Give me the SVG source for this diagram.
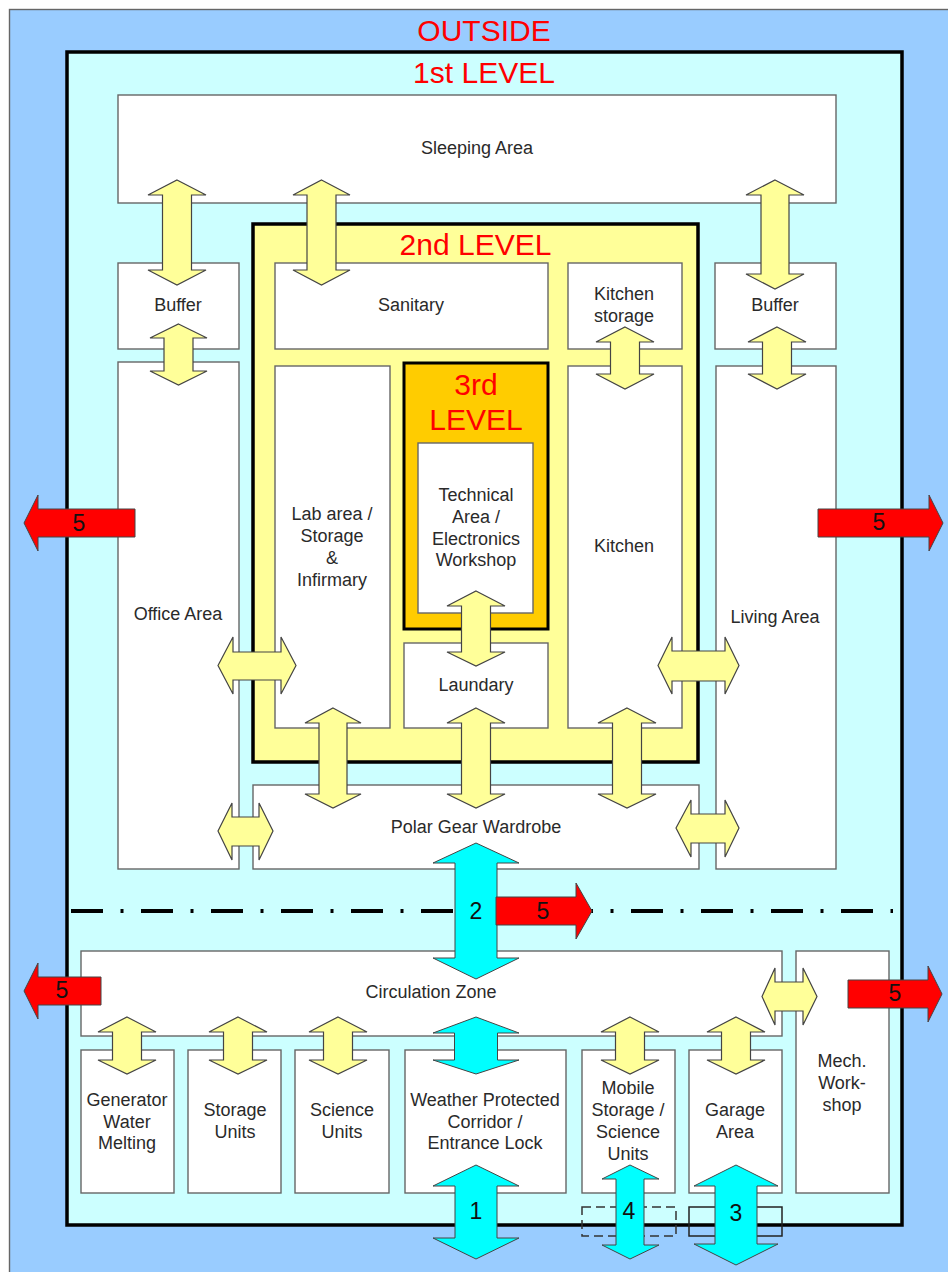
<svg xmlns="http://www.w3.org/2000/svg" width="948" height="1272" viewBox="0 0 948 1272">
<style>
text{font-family:"Liberation Sans",Arial,sans-serif;text-anchor:middle}
.b{fill:#fff;stroke:#666;stroke-width:1.4}
.t{font-size:18px;fill:#2a2a2a}
.h{font-size:30px;fill:#f00}
.n{font-size:23px;fill:#111}
.y{fill:#ff9;stroke:#444;stroke-width:1.2}
.c{fill:#0ff;stroke:#444;stroke-width:1}
.r{fill:#f00;stroke:#444;stroke-width:1}
</style>
<rect width="948" height="1272" fill="#fff"/>
<g id="outside"><rect x="9.5" y="9.5" width="945" height="1270" fill="#9cf" stroke="#666" stroke-width="1.4"/><text class="h" x="484" y="41">OUTSIDE</text></g>
<g id="level1"><rect x="67" y="52" width="835" height="1173" fill="#cff" stroke="#000" stroke-width="3.5"/><text class="h" x="484" y="83">1st LEVEL</text></g>
<g id="sleeping"><rect class="b" x="118" y="95" width="718" height="108"/><text class="t" x="477" y="154">Sleeping Area</text></g>
<g id="buffer-left"><rect class="b" x="118" y="263" width="121" height="86"/><text class="t" x="178" y="311">Buffer</text></g>
<g id="office"><rect class="b" x="118" y="362" width="121" height="507"/><text class="t" x="178" y="620">Office Area</text></g>
<g id="buffer-right"><rect class="b" x="715" y="263" width="121" height="86"/><text class="t" x="775" y="311">Buffer</text></g>
<g id="living"><rect class="b" x="716" y="366" width="120" height="503"/><text class="t" x="775" y="623">Living Area</text></g>
<g id="level2"><rect x="253" y="224" width="445" height="538" fill="#ff9" stroke="#000" stroke-width="3.5"/><text class="h" x="475.500" y="255">2nd LEVEL</text></g>
<g id="sanitary"><rect class="b" x="275" y="263" width="273" height="86"/><text class="t" x="411" y="311">Sanitary</text></g>
<g id="kitchen-storage"><rect class="b" x="568" y="263" width="114" height="86"/><text class="t" x="624" y="300">Kitchen</text><text class="t" x="624" y="322">storage</text></g>
<g id="lab"><rect class="b" x="275" y="366" width="115" height="362"/><text class="t" x="332" y="520">Lab area /</text><text class="t" x="332" y="542">Storage</text><text class="t" x="332" y="564">&amp;</text><text class="t" x="332" y="586">Infirmary</text></g>
<g id="level3"><rect x="404" y="363" width="144" height="266" fill="#fc0" stroke="#000" stroke-width="3"/><text class="h" x="476" y="395">3rd</text><text class="h" x="476" y="430">LEVEL</text></g>
<g id="technical"><rect class="b" x="418" y="443" width="115" height="170"/><text class="t" x="476" y="501">Technical</text><text class="t" x="476" y="523">Area /</text><text class="t" x="476" y="545">Electronics</text><text class="t" x="476" y="566">Workshop</text></g>
<g id="laundary"><rect class="b" x="404" y="643" width="144" height="85"/><text class="t" x="476" y="691">Laundary</text></g>
<g id="kitchen"><rect class="b" x="568" y="366" width="114" height="362"/><text class="t" x="624" y="552">Kitchen</text></g>
<g id="polar-gear"><rect class="b" x="253" y="785" width="446" height="84"/><text class="t" x="476" y="833">Polar Gear Wardrobe</text></g>
<g id="circulation"><rect class="b" x="81" y="951" width="701" height="85"/><text class="t" x="431" y="998">Circulation Zone</text></g>
<g id="mech"><rect class="b" x="796" y="951" width="93" height="242"/><text class="t" x="842" y="1067">Mech.</text><text class="t" x="842" y="1089">Work-</text><text class="t" x="842" y="1111">shop</text></g>
<g id="generator"><rect class="b" x="81" y="1050" width="93" height="143"/><text class="t" x="127" y="1106">Generator</text><text class="t" x="127" y="1128">Water</text><text class="t" x="127" y="1149">Melting</text></g>
<g id="storage"><rect class="b" x="188" y="1050" width="93" height="143"/><text class="t" x="235" y="1116">Storage</text><text class="t" x="235" y="1138">Units</text></g>
<g id="science"><rect class="b" x="295" y="1050" width="94" height="143"/><text class="t" x="342" y="1116">Science</text><text class="t" x="342" y="1138">Units</text></g>
<g id="weather"><rect class="b" x="405" y="1050" width="161" height="143"/><text class="t" x="485" y="1106">Weather Protected</text><text class="t" x="485" y="1128">Corridor /</text><text class="t" x="485" y="1149">Entrance Lock</text></g>
<g id="mobile"><rect class="b" x="582" y="1050" width="93" height="143"/><text class="t" x="628" y="1094">Mobile</text><text class="t" x="628" y="1116">Storage /</text><text class="t" x="628" y="1138">Science</text><text class="t" x="628" y="1160">Units</text></g>
<g id="garage"><rect class="b" x="689" y="1050" width="93" height="143"/><text class="t" x="735" y="1116">Garage</text><text class="t" x="735" y="1138">Area</text></g>
<g id="connectors">
<path d="M71 911H893" fill="none" stroke="#000" stroke-width="4" stroke-dasharray="32 17.5 3 17.5"/>
<rect x="582" y="1207" width="94" height="29" fill="none" stroke="#333" stroke-width="1.5" stroke-dasharray="9 5"/>
<rect x="689" y="1207" width="93" height="29" fill="none" stroke="#222" stroke-width="1.5"/>
<path class="y" d="M177 180L206 195H191.500V270H206L177 285L148 270H162.500V195H148Z"/>
<path class="y" d="M178.500 324L207 338H193V371H207L178.500 385L150 371H164V338H150Z"/>
<path class="y" d="M321.500 180L350 195H336V270H350L321.500 285L293 270H307V195H293Z"/>
<path class="y" d="M775 180L804 195H789V274H804L775 289L746 274H761V195H746Z"/>
<path class="y" d="M777 327L806 342H791.500V374H806L777 389L748 374H762.500V342H748Z"/>
<path class="y" d="M625 327L654 342H639.500V374H654L625 389L596 374H610.500V342H596Z"/>
<path class="y" d="M476 591L505 606H490.500V652H505L476 666L447 652H461.500V606H447Z"/>
<path class="y" d="M333 708L361 723H347V794H361L333 808L305 794H319V723H305Z"/>
<path class="y" d="M476 708L505 723H490.500V794H505L476 808L447 794H461.500V723H447Z"/>
<path class="y" d="M627 708L656 723H641.500V794H656L627 808L598 794H612.500V723H598Z"/>
<path class="y" d="M218 665.500L233 637V652H281V637L296 665.500L281 694V680H233V694Z"/>
<path class="y" d="M658 665.500L672 637V651H725V637L739 665.500L725 694V681H672V694Z"/>
<path class="y" d="M218 831L232 803V817H259V803L273 831L259 860V846H232V860Z"/>
<path class="y" d="M676 828L691 800V814H725V800L739 828L725 857V843H691V857Z"/>
<path class="y" d="M762 996.500L775 968V982H803V968L817 996.500L803 1025V1011H775V1025Z"/>
<path class="y" d="M127 1017L156 1032H141.500V1060H156L127 1074L98 1060H112.500V1032H98Z"/>
<path class="y" d="M238 1017L267 1032H252.500V1060H267L238 1074L209 1060H223.500V1032H209Z"/>
<path class="y" d="M338 1017L367 1032H352.500V1060H367L338 1074L309 1060H323.500V1032H309Z"/>
<path class="y" d="M630 1017L659 1032H644.500V1060H659L630 1074L601 1060H615.500V1032H601Z"/>
<path class="y" d="M736 1017L765 1032H750.500V1060H765L736 1074L707 1060H721.500V1032H707Z"/>
<path class="c" d="M476 1017L519 1033H497.500V1060H519L476 1074L433 1060H454.500V1033H433Z"/>
<path class="c" d="M476 843L519 863H497V958H519L476 979L433 958H455V863H433Z"/>
<path class="c" d="M476 1165L519 1186H497V1238H519L476 1259L433 1238H455V1186H433Z"/>
<path class="c" d="M630 1165L659 1179H644V1245H659L630 1259L602 1245H616V1179H602Z"/>
<path class="c" d="M736 1165L778 1186H757V1244H778L736 1265L694 1244H715V1186H694Z"/>
<path class="r" d="M24 523L38 495V509H135V537H38V551Z"/>
<path class="r" d="M943 523L929 495V509H818V537H929V551Z"/>
<path class="r" d="M592 911L576 883V897H496V925H576V939Z"/>
<path class="r" d="M24 991L38 963V977H101V1005H38V1019Z"/>
<path class="r" d="M942 994L928 966V980H848V1008H928V1022Z"/>
<text class="n" x="79" y="531">5</text><text class="n" x="879" y="530">5</text><text class="n" x="543" y="919">5</text><text class="n" x="62" y="998">5</text><text class="n" x="895" y="1001">5</text>
<text class="n" x="476" y="919">2</text><text class="n" x="476" y="1219">1</text><text class="n" x="629" y="1219">4</text><text class="n" x="736" y="1221">3</text>
</g>
</svg>
